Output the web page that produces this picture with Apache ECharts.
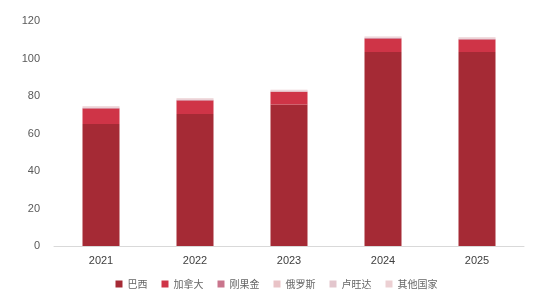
<!DOCTYPE html>
<html>
<head>
<meta charset="utf-8">
<script src="https://cdn.jsdelivr.net/npm/echarts@6/dist/echarts.min.js"></script>
<style>
  html, body { margin: 0; padding: 0; background: #fff; }
  #main { width: 553px; height: 302px; }
</style>
</head>
<body>
<div id="main"></div>
<script>
var years = ['2021', '2022', '2023', '2024', '2025'];
var brazil = [65.1, 70.4, 75.5, 103.5, 103.5];
var canada = [8.2, 7.2, 6.6, 7.0, 6.6];
var congo = [0.3, 0.3, 0.3, 0.4, 0.3];
var russia = [0.3, 0.3, 0.3, 0.3, 0.3];
var rwanda = [0.2, 0.2, 0.2, 0.2, 0.2];
var others = [0.4, 0.4, 0.4, 0.4, 0.4];

var names = ['巴西', '加拿大', '刚果金', '俄罗斯', '卢旺达', '其他国家'];
var colors = ['#a52a35', '#cf3447', '#c9758c', '#e9c3c7', '#e3c6cd', '#ecd0d3'];
var data = [brazil, canada, congo, russia, rwanda, others];

var chart = echarts.init(document.getElementById('main'));
chart.setOption({
  color: colors,
  animation: false,
  grid: { left: 54, right: 29, top: 21, bottom: 56 },
  legend: {
    data: names,
    bottom: 8,
    left: 'center',
    itemWidth: 7,
    itemHeight: 7,
    itemGap: 14,
    icon: 'rect',
    textStyle: { fontSize: 10, color: '#666', fontFamily: 'Noto Sans CJK SC' }
  },
  xAxis: {
    type: 'category',
    data: years,
    axisLine: { lineStyle: { color: '#d9d9d9' } },
    axisTick: { show: false },
    axisLabel: { color: '#404040', fontSize: 11, margin: 9 }
  },
  yAxis: {
    type: 'value',
    min: 0,
    max: 120,
    interval: 20,
    splitLine: { show: false },
    axisLabel: { color: '#595959', fontSize: 11, margin: 14 }
  },
  series: names.map(function (n, i) {
    return {
      name: n,
      type: 'bar',
      stack: 'total',
      barWidth: 37,
      data: data[i]
    };
  })
});
</script>
</body>
</html>
